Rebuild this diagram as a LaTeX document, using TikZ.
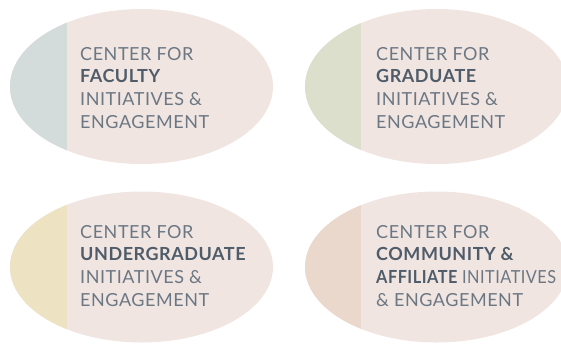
\documentclass[tikz,border=0pt]{standalone}
\usepackage{fontspec}
\usepackage{graphicx}
\setmainfont{Lato}[LetterSpace=3]
\definecolor{pinkbg}{HTML}{F1E5E2}
\definecolor{bandA}{HTML}{D3DCDB}
\definecolor{bandB}{HTML}{DBDFCB}
\definecolor{bandC}{HTML}{EDE2C2}
\definecolor{bandD}{HTML}{EAD8CC}
\definecolor{txt}{HTML}{6B7783}
\definecolor{txtb}{HTML}{4F5C69}
\newcommand{\bk}[1]{{\bfseries\color{txtb}#1}}
\newcommand{\tightline}[1]{\resizebox{180pt}{\height}{#1}}
\tikzset{
  label text/.style={anchor=north west, inner sep=0pt, align=left, text=txt,
    font=\fontsize{18}{22.7}\selectfont}
}
\begin{document}
\begin{tikzpicture}[x=1pt,y=-1pt]
\useasboundingbox (0,0) rectangle (561,343);
\clip (0,0) rectangle (561,343);
% ellipses
\foreach \cx/\cy/\ry/\bx/\bc in {141.5/86.5/77.5/67/bandA, 436.5/86.5/77.5/361/bandB, 141.5/267/75.5/67/bandC, 436.5/267/75.5/361/bandD}{
  \fill[pinkbg] (\cx,\cy) ellipse [x radius=131.5pt, y radius=\ry pt];
  \begin{scope}
    \clip (\cx,\cy) ellipse [x radius=131.5pt, y radius=\ry pt];
    \fill[\bc] (\cx-140,\cy-90) rectangle (\bx,\cy+90);
  \end{scope}
}
\node[label text] (t1) at (80,47) {CENTER FOR\\\bk{FACULTY}\\INITIATIVES \&\\ENGAGEMENT};
\node[label text] (t2) at (376,47) {CENTER FOR\\\bk{GRADUATE}\\INITIATIVES \&\\ENGAGEMENT};
\node[label text] (t3) at (80,225) {CENTER FOR\\\bk{UNDERGRADUATE}\\INITIATIVES \&\\ENGAGEMENT};
\node[label text] (t4) at (376,225) {CENTER FOR\\\bk{COMMUNITY \&}\\\tightline{\bk{AFFILIATE} INITIATIVES}\\\& ENGAGEMENT};
\end{tikzpicture}
\end{document}
